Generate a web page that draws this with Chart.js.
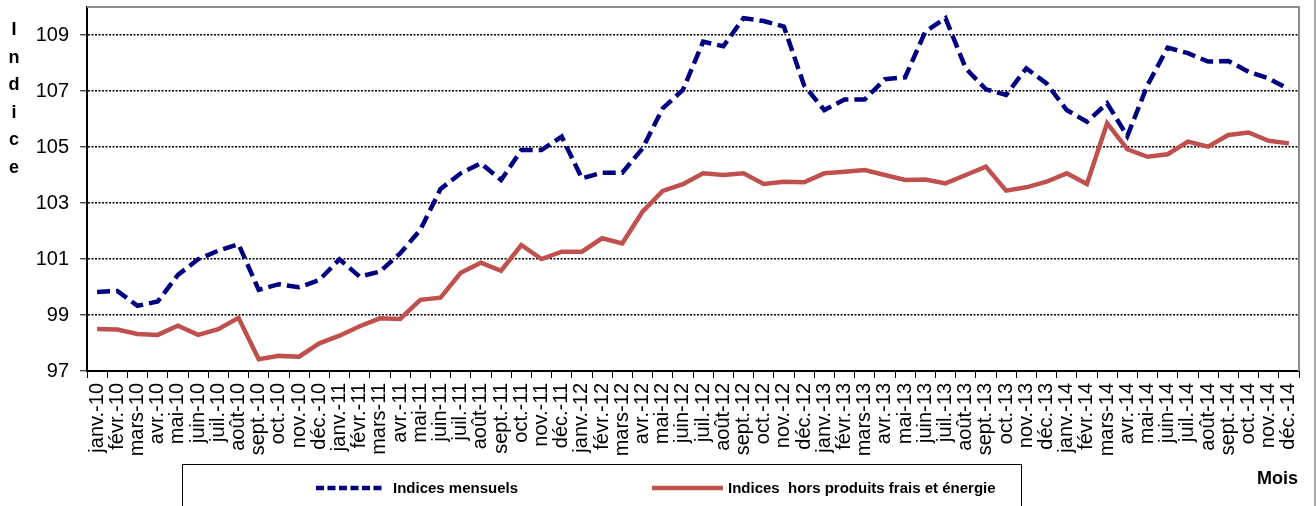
<!DOCTYPE html>
<html>
<head>
<meta charset="utf-8">
<script src="https://cdn.jsdelivr.net/npm/chart.js@4"></script>
<style>
  html, body { margin: 0; padding: 0; background: #fff; overflow: hidden; }
  canvas { display: block; }
</style>
</head>
<body>
<canvas id="indices" width="1316" height="506"></canvas>
<script>
const mois = ["janv.", "févr.", "mars", "avr.", "mai", "juin", "juil.", "août", "sept.", "oct.", "nov.", "déc."];
const annees = ["10", "11", "12", "13", "14"];
const labels = annees.flatMap((a) => mois.map((m) => m + "-" + a));

const yTicks = [97, 99, 101, 103, 105, 107, 109];

const indicesMensuels = [
  99.82, 99.86, 99.33, 99.48, 100.43, 100.99, 101.3, 101.53, 99.9, 100.1, 99.99, 100.25,
  100.99, 100.37, 100.55, 101.2, 102.04, 103.5, 104.06, 104.42, 103.82, 104.89, 104.89, 105.37,
  103.88, 104.08, 104.08, 104.95, 106.38, 107.04, 108.76, 108.6, 109.6, 109.5, 109.3, 107.2,
  106.32, 106.7, 106.7, 107.42, 107.49, 109.12, 109.6, 107.81, 107.06, 106.86, 107.81, 107.27,
  106.32, 105.9, 106.56, 105.39, 107.21, 108.55, 108.35, 108.05, 108.07, 107.69, 107.45, 107.06,
];

const indicesHorsFrais = [
  98.5, 98.48, 98.32, 98.29, 98.62, 98.29, 98.49, 98.9, 97.42, 97.54, 97.51, 97.99,
  98.26, 98.6, 98.88, 98.86, 99.54, 99.62, 100.51, 100.87, 100.58, 101.5, 101.0, 101.26,
  101.26, 101.74, 101.56, 102.69, 103.43, 103.67, 104.06, 104.0, 104.06, 103.68, 103.76, 103.74,
  104.06, 104.12, 104.18, 104.0, 103.82, 103.84, 103.7, 104.0, 104.3, 103.44, 103.56, 103.76,
  104.06, 103.68, 105.85, 104.92, 104.65, 104.74, 105.19, 105.01, 105.43, 105.52, 105.22, 105.13,
];

const police = '"Liberation Sans", Arial, sans-serif';

// cadre gris, titres et legende dessinés à la main
const decor = {
  id: "decor",
  afterDraw(chart) {
    const { ctx, chartArea: a } = chart;
    ctx.save();

    ctx.strokeStyle = "#8c8c8c";
    ctx.lineWidth = 2;
    ctx.beginPath();
    ctx.moveTo(a.left, a.top);
    ctx.lineTo(a.right, a.top);
    ctx.lineTo(a.right, a.bottom);
    ctx.stroke();

    ctx.lineWidth = 1.5;
    ctx.beginPath();
    ctx.moveTo(1315, 0);
    ctx.lineTo(1315, 506);
    ctx.stroke();

    ctx.fillStyle = "#000";
    ctx.font = "bold 18px " + police;
    ctx.textAlign = "center";
    ctx.textBaseline = "middle";
    "Indice".split("").forEach((c, i) => ctx.fillText(c, 14, 30 + i * 27.6));

    ctx.textAlign = "left";
    ctx.fillText("Mois", 1257, 479);

    // legende
    ctx.strokeStyle = "#000";
    ctx.lineWidth = 1;
    ctx.strokeRect(182.5, 464.5, 839, 60);

    const entrees = [
      { x: 316, w: 69, tx: 393, ds: 0 },
      { x: 652, w: 71, tx: 728, ds: 1 },
    ];
    ctx.font = "bold 15px " + police;
    entrees.forEach((e) => {
      const ds = chart.data.datasets[e.ds];
      ctx.strokeStyle = ds.borderColor;
      ctx.lineWidth = ds.borderWidth;
      ctx.setLineDash(e.ds === 0 ? [8, 3.5] : []);
      ctx.beginPath();
      ctx.moveTo(e.x, 488);
      ctx.lineTo(e.x + e.w, 488);
      ctx.stroke();
      ctx.setLineDash([]);
      ctx.fillText(ds.label, e.tx, 489);
    });

    ctx.restore();
  },
};

new Chart(document.getElementById("indices"), {
  type: "line",
  data: {
    labels: labels,
    datasets: [
      {
        label: "Indices mensuels",
        data: indicesMensuels,
        borderColor: "#000080",
        borderWidth: 4.5,
        borderDash: [13, 6],
        pointRadius: 0,
        tension: 0,
        fill: false,
      },
      {
        label: "Indices  hors produits frais et énergie",
        data: indicesHorsFrais,
        borderColor: "#c0504d",
        borderWidth: 4.5,
        pointRadius: 0,
        tension: 0,
        fill: false,
      },
    ],
  },
  options: {
    responsive: false,
    animation: false,
    devicePixelRatio: 1,
    layout: { padding: { top: 7, right: 17, left: 0, bottom: 0 } },
    plugins: {
      legend: { display: false },
      tooltip: { enabled: false },
    },
    scales: {
      x: {
        offset: true,
        grid: {
          display: true,
          drawOnChartArea: false,
          drawTicks: true,
          tickLength: 7,
          color: "#000",
          offset: true,
        },
        border: { color: "#000", width: 2 },
        ticks: {
          autoSkip: false,
          maxRotation: 90,
          minRotation: 90,
          padding: 5,
          color: "#000",
          font: { size: 20, family: police },
        },
        afterFit: (s) => {
          s.height = 135;
          s.paddingLeft = 0;
          s.paddingRight = 0;
        },
      },
      y: {
        min: 97,
        max: 110,
        grid: {
          color: "#000",
          lineWidth: 1.5,
          tickLength: 7,
          tickColor: "#000",
          tickWidth: 1,
        },
        border: { color: "#000", width: 2, dash: [2, 1.5] },
        ticks: {
          padding: 11,
          color: "#000",
          font: { size: 20, family: police },
        },
        afterBuildTicks: (s) => {
          s.ticks = yTicks.map((v) => ({ value: v }));
        },
        afterFit: (s) => {
          s.width = 87;
          s.paddingTop = 0;
          s.paddingBottom = 0;
        },
      },
    },
  },
  plugins: [decor],
});
</script>
</body>
</html>
